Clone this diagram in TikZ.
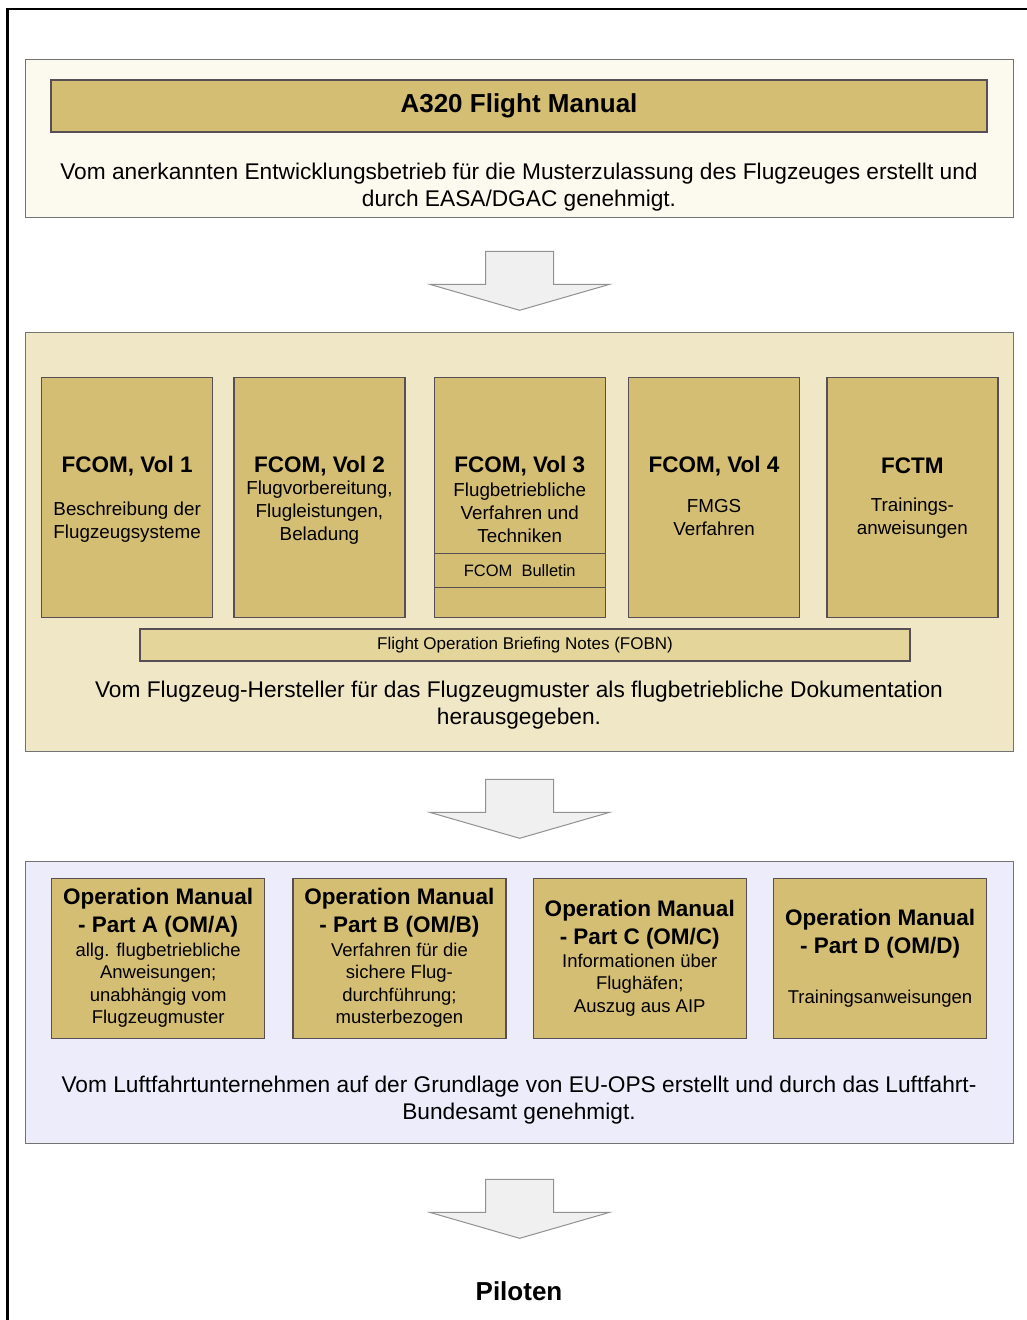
\documentclass[tikz,border=0pt]{standalone}
\usepackage{fontspec}
\setmainfont{Liberation Sans}
\usetikzlibrary{positioning,calc}

\definecolor{gold}{RGB}{212,190,116}
\definecolor{goldlight}{RGB}{228,214,155}
\definecolor{creampanel}{RGB}{252,249,238}
\definecolor{tanpanel}{RGB}{239,231,197}
\definecolor{lilacpanel}{RGB}{237,236,250}
\definecolor{edge}{RGB}{88,78,86}
\definecolor{paneledge}{RGB}{115,115,115}
\definecolor{arrowedge}{RGB}{145,145,145}
\definecolor{arrowfill}{RGB}{240,240,240}

\tikzset{
  pics/bigarrow/.style={code={
    \draw[arrowedge, fill=arrowfill, line width=1pt]
      (-34,0) -- (34,0) -- (34,33) -- (90,33) -- (0,59) -- (-90,33) -- (-34,33) -- cycle;
  }}
}

\begin{document}
\begin{tikzpicture}[x=1pt, y=-1pt,
        panel/.style={draw=paneledge, line width=1.3pt, minimum width=988pt, inner sep=0pt, anchor=north west},
        goldbox/.style={draw=edge, fill=gold, line width=1.3pt, inner sep=0pt},
        vol/.style={goldbox, minimum width=171pt, minimum height=240pt},
        om/.style={goldbox, minimum width=213pt, minimum height=160pt},
        bodytext/.style={align=center, inner sep=0pt, font=\fontsize{22.7}{26.5}\selectfont},
        voltitle/.style={inner sep=0pt, font=\bfseries\fontsize{22.5}{26}\selectfont},
        volsub/.style={align=center, inner sep=0pt, font=\fontsize{18.8}{23}\selectfont},
        omtitle/.style={align=center, inner sep=0pt, font=\bfseries\fontsize{22.5}{28}\selectfont},
        omsub/.style={align=center, inner sep=0pt, font=\fontsize{18.5}{22.5}\selectfont}]
    \useasboundingbox (0,0) rectangle (1027,1320);
    \fill[white] (0,0) rectangle (1027,1320);
    \draw[line width=2.6pt] (7.7,1325) -- (7.7,9) -- (1030,9);

    % flight manual
    \node[panel, fill=creampanel, minimum height=158pt] (afmpanel) at (25,59) {};
    \node[goldbox, minimum width=936pt, minimum height=52pt, font=\bfseries\fontsize{26}{30}\selectfont]
        (afm) at (519,106) {A320 Flight Manual};
    \node[bodytext] (afmtext) at (519,187) {Vom anerkannten Entwicklungsbetrieb für die Musterzulassung des Flugzeuges erstellt und\\durch EASA/DGAC genehmigt.};
    \pic at ($(afmpanel.south)+(0,33)$) {bigarrow};

    % manufacturer documents
    \node[panel, fill=tanpanel, minimum height=419pt] (fcompanel) at (25,332) {};
    \node[vol, anchor=north west] (vol1) at (41,377) {};
    \node[vol, right=20pt of vol1] (vol2) {};
    \node[vol, right=28pt of vol2] (vol3) {};
    \node[vol, right=22pt of vol3] (vol4) {};
    \node[vol, right=26pt of vol4] (fctm) {};
    \node[goldbox, minimum width=171pt, minimum height=34pt, above=30pt of vol3.south,
        font=\fontsize{16.5}{18}\selectfont] (bulletin) {FCOM\ \ Bulletin};

    \node[voltitle] (vol1t) at ($(vol1.north)+(0,89)$) {FCOM, Vol 1};
    \node[volsub] (vol1s) at ($(vol1.north)+(0,145)$) {Beschreibung der\\Flugzeugsysteme};
    \node[voltitle] (vol2t) at ($(vol2.north)+(0,89)$) {FCOM, Vol 2};
    \node[volsub] (vol2s) at ($(vol2.north)+(0,136)$) {Flugvorbereitung,\\Flugleistungen,\\Beladung};
    \node[voltitle] (vol3t) at ($(vol3.north)+(0,89)$) {FCOM, Vol 3};
    \node[volsub] (vol3s) at ($(vol3.north)+(0,136)$) {Flugbetriebliche\\Verfahren und\\Techniken};
    \node[voltitle] (vol4t) at ($(vol4.north)+(0,89)$) {FCOM, Vol 4};
    \node[volsub] (vol4s) at ($(vol4.north)+(0,141)$) {FMGS\\Verfahren};
    \node[voltitle] (fctmt) at ($(fctm.north)+(0,89)$) {FCTM};
    \node[volsub] (fctms) at ($(fctm.north)+(0,141)$) {Trainings-\\anweisungen};

    \node[draw=edge, fill=goldlight, line width=1.3pt, minimum width=770pt, minimum height=32pt,
        inner sep=0pt, font=\fontsize{17}{19}\selectfont] (fobn) at (525,645) {Flight Operation Briefing Notes (FOBN)};
    \node[bodytext] (fcomtext) at (519,705) {Vom Flugzeug-Hersteller für das Flugzeugmuster als flugbetriebliche Dokumentation\\herausgegeben.};
    \pic at ($(fcompanel.south)+(0,27)$) {bigarrow};

    % operator documents
    \node[panel, fill=lilacpanel, minimum height=282pt] (ompanel) at (25,861) {};
    \node[om, anchor=north west] (oma) at (51,878) {};
    \node[om, right=27pt of oma] (omb) {};
    \node[om, right=26pt of omb] (omc) {};
    \node[om, right=26pt of omc] (omd) {};

    \node[omtitle] (omat) at ($(oma.north)+(0,35)$) {Operation Manual\\- Part A (OM/A)};
    \node[omsub] (omas) at ($(oma.north)+(0,107)$) {allg. flugbetriebliche\\Anweisungen;\\unabhängig vom\\Flugzeugmuster};
    \node[omtitle] (ombt) at ($(omb.north)+(0,35)$) {Operation Manual\\- Part B (OM/B)};
    \node[omsub] (ombs) at ($(omb.north)+(0,107)$) {Verfahren für die\\sichere Flug-\\durchführung;\\musterbezogen};
    \node[omtitle] (omct) at ($(omc.north)+(0,46.5)$) {Operation Manual\\- Part C (OM/C)};
    \node[omsub] (omcs) at ($(omc.north)+(0,107)$) {Informationen über\\Flughäfen;\\Auszug aus AIP};
    \node[omtitle] (omdt) at ($(omd.north)+(0,56)$) {Operation Manual\\- Part D (OM/D)};
    \node[omsub] (omds) at ($(omd.north)+(0,121)$) {Trainingsanweisungen};

    \node[bodytext] (omtext) at (519,1100) {Vom Luftfahrtunternehmen auf der Grundlage von EU-OPS erstellt und durch das Luftfahrt-\\Bundesamt genehmigt.};
    \pic at ($(ompanel.south)+(0,35)$) {bigarrow};

    \node[font=\bfseries\fontsize{26}{30}\selectfont] (piloten) at (519,1291) {Piloten};
\end{tikzpicture}
\end{document}
